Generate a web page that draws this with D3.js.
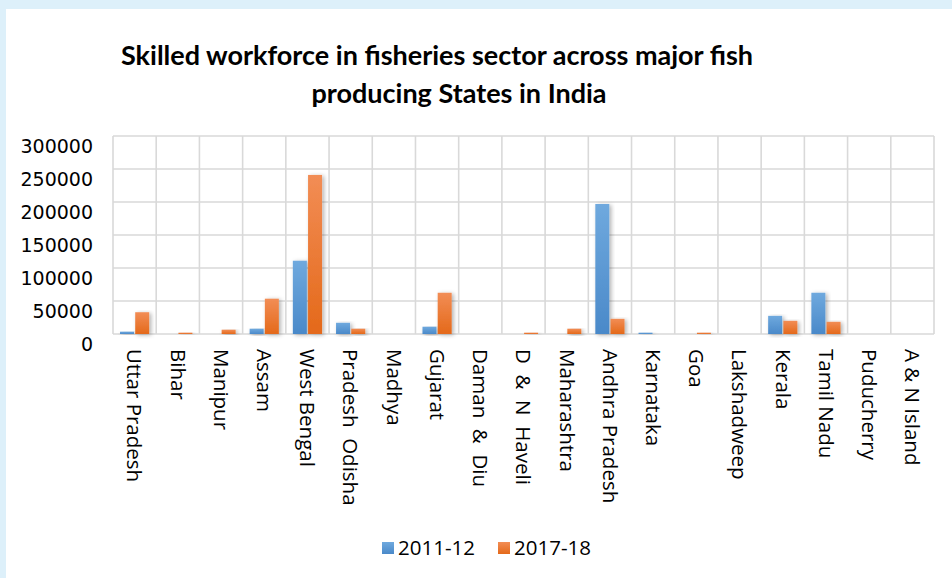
<!DOCTYPE html>
<html>
<head>
<meta charset="utf-8">
<script src="https://cdn.jsdelivr.net/npm/d3@7"></script>
<style>
  html, body { margin: 0; padding: 0; background: #ddf0fa; }
  svg { display: block; }
</style>
</head>
<body>
<div id="chart"></div>
<script>
// chart data
var states = ["Uttar Pradesh", "Bihar", "Manipur", "Assam", "West Bengal", "Pradesh  Odisha",
  "Madhya", "Gujarat", "Daman  &  Diu", "D  &  N  Haveli", "Maharashtra", "Andhra Pradesh",
  "Karnataka", "Goa", "Lakshadweep", "Kerala", "Tamil Nadu", "Puducherry", "A & N Island"];
var series = ["2011-12", "2017-18"];
var v2011 = [3500, 0, 0, 8000, 111000, 17000, 0, 11000, 0, 0, 0, 197000, 2000, 0, 0, 27500, 62500, 0, 0];
var v2017 = [33000, 2000, 6500, 53500, 241000, 8000, 0, 62500, 0, 2000, 8000, 23000, 0, 2000, 0, 20000, 18500, 0, 0];
var yTicks = [0, 50000, 100000, 150000, 200000, 250000, 300000];
var titleLines = ["Skilled workforce in fisheries sector across major fish", "producing States in India"];

var drawChart = function() {
    const width = 952, height = 578;
    const plot = {left: 113, right: 934, top: 136, bottom: 334};
    var gridColor = "#d9d9d9";
    var labelFont = "'Open Sans', sans-serif";
    var labelSize = 20.5;

    var data = states.map(function(s, i) {
        return {state: s, values: [v2011[i], v2017[i]]};
    });

    var svg = d3.select("#chart").append("svg")
        .attr("width", width)
        .attr("height", height);

    // gradients + soft shadow, like the office bars
    var defs = svg.append("defs");
    var grads = [["#6fa9de", "#4a89c9"], ["#f28d55", "#e4691a"]];
    grads.forEach(function(g, i) {
        var lg = defs.append("linearGradient").attr("id", "grad" + i)
            .attr("x1", 0).attr("y1", 0).attr("x2", 0).attr("y2", 1);
        lg.append("stop").attr("offset", "0%").attr("stop-color", g[0]);
        lg.append("stop").attr("offset", "100%").attr("stop-color", g[1]);
    });
    var f = defs.append("filter").attr("id", "shadow")
        .attr("x", "-30%").attr("y", "-10%").attr("width", "170%").attr("height", "130%");
    f.append("feDropShadow").attr("dx", 2).attr("dy", 1).attr("stdDeviation", 2)
        .attr("flood-color", "#000").attr("flood-opacity", 0.3);

    // white card
    svg.append("rect")
        .attr("x", 6).attr("y", 9)
        .attr("width", width - 6).attr("height", height - 9)
        .attr("fill", "#fff");

    // title
    var titleX = [437, 459];
    svg.append("g").selectAll("text")
        .data(titleLines)
        .join("text")
        .attr("x", (d, i) => titleX[i])
        .attr("y", (d, i) => 65 + i * 38)
        .attr("text-anchor", "middle")
        .attr("font-family", "Lato, sans-serif")
        .attr("font-weight", "bold")
        .attr("font-size", 27)
        .attr("fill", "#000")
        .text(d => d);

    // scales
    var x = d3.scaleBand()
        .domain(states)
        .range([plot.left, plot.right])
        .padding(0);
    var xs = d3.scaleBand()
        .domain([0, 1])
        .range([7, x.bandwidth() - 7])
        .paddingInner(0.08);
    var y = d3.scaleLinear()
        .domain([0, 300000])
        .range([plot.bottom, plot.top]);

    // gridlines
    var grid = svg.append("g").attr("stroke", gridColor).attr("stroke-width", 1.6);
    grid.selectAll(".h")
        .data(yTicks)
        .join("line")
        .attr("x1", plot.left).attr("x2", plot.right)
        .attr("y1", d => y(d)).attr("y2", d => y(d));
    grid.selectAll(".v")
        .data(states.concat(["_end"]))
        .join("line")
        .attr("x1", (d, i) => i < states.length ? x(d) : plot.right)
        .attr("x2", (d, i) => i < states.length ? x(d) : plot.right)
        .attr("y1", plot.top).attr("y2", plot.bottom);

    // y labels (they sit a little below their gridline in the original)
    svg.append("g").selectAll("text")
        .data(yTicks)
        .join("text")
        .attr("x", 93)
        .attr("y", d => y(d) + 10)
        .attr("dy", "0.35em")
        .attr("text-anchor", "end")
        .attr("font-family", "'DejaVu Sans', sans-serif")
        .attr("font-size", 19)
        .attr("fill", "#000")
        .text(d => d);

    // bars
    var groups = svg.append("g").selectAll("g")
        .data(data)
        .join("g")
        .attr("transform", d => "translate(" + x(d.state) + ",0)");
    groups.selectAll("rect")
        .data(d => d.values.map((v, k) => ({k: k, v: v})).filter(e => e.v > 0))
        .join("rect")
        .attr("x", e => xs(e.k))
        .attr("width", xs.bandwidth())
        .attr("y", e => y(e.v))
        .attr("height", e => y(0) - y(e.v))
        .attr("fill", e => "url(#grad" + e.k + ")")
        .attr("filter", "url(#shadow)");

    // x labels, rotated
    svg.append("g").selectAll("text")
        .data(states)
        .join("text")
        .attr("transform", d => "translate(" + (x(d) + x.bandwidth() / 2) + ",349) rotate(90)")
        .attr("dy", "0.35em")
        .attr("font-family", labelFont)
        .attr("font-size", labelSize)
        .attr("fill", "#000")
        .style("white-space", "pre")
        .text(d => d);

    // legend
    var legendX = [382, 498];
    var legend = svg.append("g").selectAll("g")
        .data(series)
        .join("g")
        .attr("transform", (d, i) => "translate(" + legendX[i] + ",542)");
    legend.append("rect")
        .attr("width", 12).attr("height", 12)
        .attr("fill", (d, i) => "url(#grad" + i + ")");
    legend.append("text")
        .attr("x", 16).attr("y", 6)
        .attr("dy", "0.35em")
        .attr("font-family", labelFont)
        .attr("font-size", labelSize)
        .attr("fill", "#000")
        .text(d => d);
}

window.addEventListener("load", drawChart);
</script>
</body>
</html>
